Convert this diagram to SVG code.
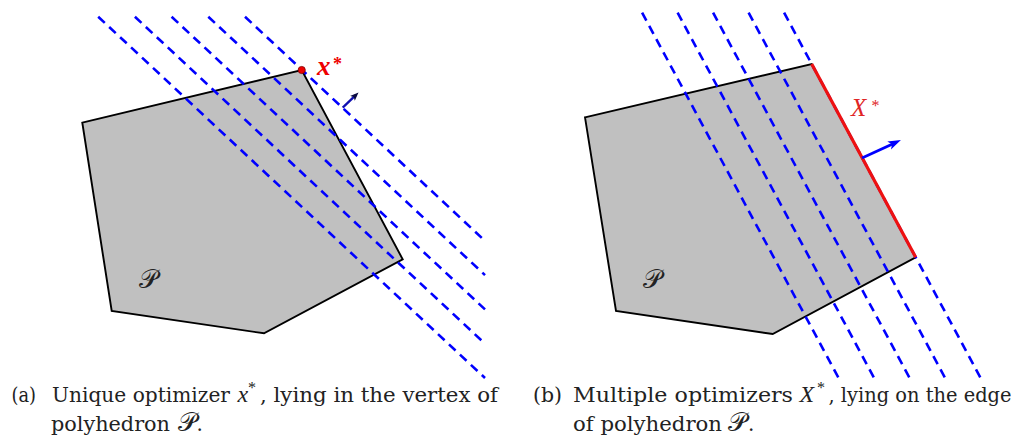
<svg xmlns="http://www.w3.org/2000/svg" width="1015" height="439" viewBox="0 0 1015 439">
<style>
.poly{fill:#c0c0c0;stroke:#000;stroke-width:1.9;stroke-linejoin:miter}
.dash{stroke:#0000ff;stroke-width:2.6;stroke-dasharray:9 6;fill:none}
.cap{font-family:"DejaVu Serif","Liberation Serif",serif;font-size:20px;fill:#222}
.capi{font-family:"Liberation Serif","Times New Roman",serif;font-size:24px;font-style:italic;fill:#222}
.capsup{font-family:"Liberation Serif","Times New Roman",serif;font-size:16px;fill:#222}
.cal{font-family:"DejaVu Serif","DejaVu Sans","Noto Sans",serif;font-size:26px;fill:#222}
</style>
<defs>
<marker id="headB" markerUnits="userSpaceOnUse" markerWidth="14" markerHeight="10" refX="8" refY="5" orient="auto">
<path d="M0,0.6 L13,5 L0,9.4 L3.2,5 z" fill="#0000ff"/>
</marker>
<marker id="headA" markerUnits="userSpaceOnUse" markerWidth="10" markerHeight="8" refX="5" refY="4" orient="auto">
<path d="M0,0.6 L8.5,4 L0,7.4 L2,4 z" fill="#0a0a40"/>
</marker>
</defs>

<g id="panel-a">
<g id="polyhedron-a">
<polygon class="poly" points="82.3,122.7 301.7,70 402.7,259.3 264,333.3 111.7,311"/>
<text class="cal" x="139" y="288">𝒫</text>
</g>
<g id="level-lines-a">
<line class="dash" x1="98.2" y1="16.7" x2="485" y2="378"/>
<line class="dash" x1="134.9" y1="16.7" x2="485" y2="343.7"/>
<line class="dash" x1="171.6" y1="16.7" x2="485" y2="309.4"/>
<line class="dash" x1="208.3" y1="16.7" x2="485" y2="275.1"/>
<line class="dash" x1="245" y1="16.7" x2="485" y2="240.9"/>
</g>
<g id="optimizer-a">
<circle cx="301.7" cy="70" r="3.6" fill="#ee0000" stroke="#800000" stroke-width="0.8"/>
<text x="317" y="74.5" font-family="Liberation Serif, serif" font-size="27" font-weight="bold" font-style="italic" fill="#ee0000">x</text>
<text x="333" y="70" font-family="Liberation Serif, serif" font-size="18" font-weight="bold" fill="#ee0000">*</text>
</g>
<g id="normal-a">
<line x1="342.7" y1="107.7" x2="356" y2="94.9" stroke="#1010b0" stroke-width="2.3" marker-end="url(#headA)"/>
</g>
<g id="caption-a">
<text class="cap" x="11.5" y="402" textLength="24.5" lengthAdjust="spacingAndGlyphs">(a)</text>
<text class="cap" x="52" y="402" textLength="178" lengthAdjust="spacingAndGlyphs">Unique optimizer</text>
<text class="capi" x="237.5" y="402">x</text>
<text class="capsup" x="248" y="392.5">*</text>
<text class="cap" x="260" y="402" textLength="238" lengthAdjust="spacingAndGlyphs">, lying in the vertex of</text>
<text class="cap" x="51" y="431" textLength="119" lengthAdjust="spacingAndGlyphs">polyhedron</text>
<text class="cal" x="177.5" y="431" font-size="24">𝒫</text>
<text class="cap" x="196.5" y="431">.</text>
</g>
</g>

<g id="panel-b">
<g id="polyhedron-b">
<polygon class="poly" points="585,117.3 811.7,64 915.7,257.3 772.7,334 616,311"/>
<text class="cal" x="643" y="288">𝒫</text>
</g>
<g id="level-lines-b">
<line class="dash" x1="642.1" y1="12.7" x2="838.8" y2="378.3"/>
<line class="dash" x1="677.6" y1="12.7" x2="874.3" y2="378.3"/>
<line class="dash" x1="713.1" y1="12.7" x2="909.8" y2="378.3"/>
<line class="dash" x1="748.6" y1="12.7" x2="945.3" y2="378.3"/>
<line class="dash" x1="784.1" y1="12.7" x2="980.8" y2="378.3"/>
</g>
<g id="optimal-edge-b">
<line x1="811.7" y1="64" x2="915.7" y2="257.3" stroke="#ee1111" stroke-width="3.2"/>
<text x="851" y="116" font-family="Liberation Serif, serif" font-size="25" font-style="italic" fill="#e02525">X</text>
<text x="871.5" y="111" font-family="Liberation Serif, serif" font-size="16" fill="#e02525">*</text>
</g>
<g id="normal-b">
<line x1="862" y1="158" x2="896.4" y2="142.2" stroke="#0000ff" stroke-width="2.8" marker-end="url(#headB)"/>
</g>
<g id="caption-b">
<text class="cap" x="533" y="402" textLength="29" lengthAdjust="spacingAndGlyphs">(b)</text>
<text class="cap" x="573" y="402" textLength="220" lengthAdjust="spacingAndGlyphs">Multiple optimizers</text>
<text class="capi" x="799.5" y="402">X</text>
<text class="capsup" x="817" y="392.5">*</text>
<text class="cap" x="828.5" y="402" textLength="183" lengthAdjust="spacingAndGlyphs">, lying on the edge</text>
<text class="cap" x="573" y="431" textLength="149" lengthAdjust="spacingAndGlyphs">of polyhedron</text>
<text class="cal" x="728" y="431" font-size="24">𝒫</text>
<text class="cap" x="748" y="431">.</text>
</g>
</g>
</svg>
